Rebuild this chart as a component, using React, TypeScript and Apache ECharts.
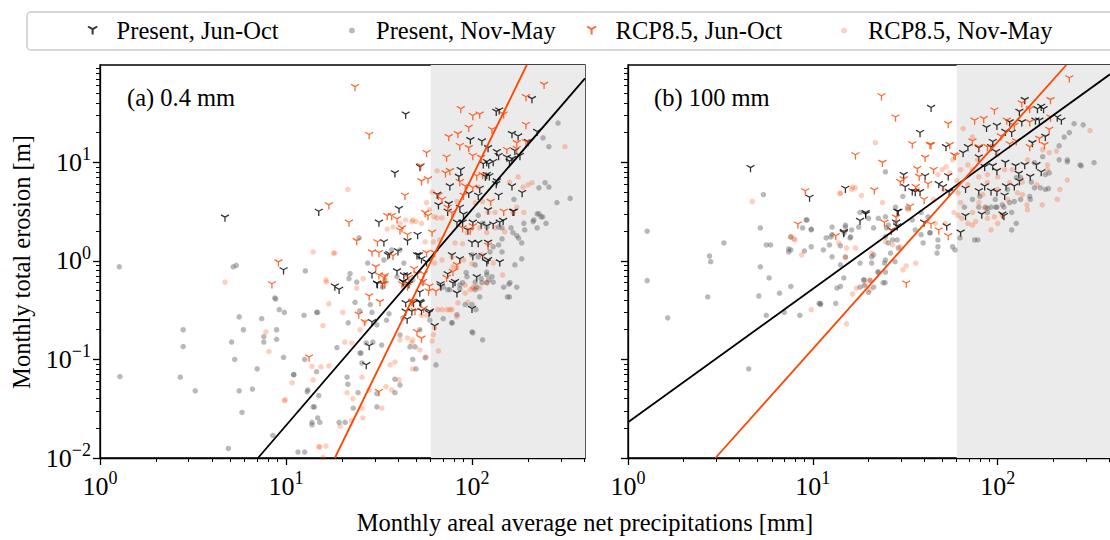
import { useEffect, useRef } from 'react';
import * as echarts from 'echarts';

// ---------- axes ----------
const xMin = 1;
const xMax = 405;
const yMin = 0.01;
const yMax = 97;
const shadeFrom = 60;
const majorX = [1, 10, 100];
const minorX = [2, 3, 4, 5, 6, 7, 8, 9, 20, 30, 40, 50, 60, 70, 80, 90, 200, 300, 400];
const majorY = [0.01, 0.1, 1, 10];
const minorY = [
  0.02, 0.03, 0.04, 0.05, 0.06, 0.07, 0.08, 0.09,
  0.2, 0.3, 0.4, 0.5, 0.6, 0.7, 0.8, 0.9,
  2, 3, 4, 5, 6, 7, 8, 9,
  20, 30, 40, 50, 60, 70, 80, 90,
];

const seriesNames = ['Present, Jun-Oct', 'Present, Nov-May', 'RCP8.5, Jun-Oct', 'RCP8.5, Nov-May'];
const panelTitles = ['(a) 0.4 mm', '(b) 100 mm'];
const xTitle = 'Monthly areal average net precipitations [mm]';
const yTitle = 'Monthly total erosion [m]';

// ---------- panel (a) 0.4 mm ----------
const presentJJ_a = [
  [4.7, 2.7], [9.7, 0.79], [15, 3.1], [44, 30], [210, 43], [140, 33], [135, 32], [98, 16.5], [113, 16],
  [164, 19], [177, 18], [122, 13.7], [136, 12.5], [130, 9.9], [139, 11.4], [120, 9.9], [115, 9.4], [123, 9.4],
  [154, 11], [164, 10.6], [159, 10], [170, 12.8], [181, 11.4], [200, 15.8], [224, 20], [52.5, 8.8], [38.5, 7.6],
  [87, 8.2], [85, 7], [120, 7.3], [118, 7.0], [124, 7.1], [136, 6.3], [135, 5.9], [164, 5.6], [186, 4.8],
  [139, 4.5], [110, 5.3], [96, 4.7], [108, 4.5], [122, 3.2], [168, 3.1], [31.6, 2.4], [40.5, 3.3], [45, 1.56],
  [51, 1.8], [65, 4.6], [76, 5.6], [75, 3.7], [66, 3.6], [74, 3.1], [86, 3.4], [90, 2.9], [83, 2.4], [89, 2.4],
  [95, 2.0], [101, 2.4], [112, 2.3], [120, 2.2], [130, 2.3], [141, 2.4], [100, 1.5], [108, 1.49], [122, 1.5],
  [122, 1.0], [141, 0.95], [147, 2.5], [166, 3.1], [50.6, 1.12], [53.5, 1.02], [57, 0.95], [36, 1.15], [40, 1.23],
  [33.6, 1.52], [18.3, 0.54], [19.3, 0.5], [31, 0.57], [33, 0.57], [39.5, 0.77], [43, 0.7], [45, 0.7], [30.8, 0.58],
  [42.6, 0.6], [67.7, 0.57], [79, 0.58], [44, 0.366], [48.5, 0.366], [53, 0.366], [58.7, 0.29], [44, 0.3],
  [53.5, 0.304], [63, 0.214], [83, 0.46], [27, 0.086], [29, 0.235],
  [29, 0.72], [42.5, 0.6], [45.8, 0.57], [52.4, 0.47], [47.5, 0.3], [52.4, 0.375], [59.3, 0.3], [44.8, 0.25],
  [28, 0.134], [68, 0.54], [74, 0.72], [81, 0.6], [100, 0.32], [106, 0.67], [120, 0.95], [78, 1.12], [86, 1.02],
  [101, 1.1], [114, 1.1], [35.3, 1.12], [51.9, 1.12],
];
const presentNM_a = [
  [1.27, 0.87], [5.2, 0.87], [5.4, 0.9], [12.7, 0.79], [8.7, 0.42], [8.8, 0.41], [5.6, 0.27], [7.4, 0.26],
  [9.2, 0.32], [9.8, 0.3], [12.5, 0.28], [14.6, 0.3], [2.8, 0.2], [5.9, 0.2], [8.9, 0.2], [7.6, 0.17], [7.6, 0.15],
  [8.9, 0.16], [5.1, 0.15], [2.8, 0.135], [5.3, 0.1], [9.7, 0.105], [7, 0.08], [14.6, 0.075], [1.28, 0.067],
  [2.7, 0.066], [11, 0.07], [3.25, 0.048], [5.6, 0.048], [6.6, 0.05], [13, 0.047], [14.2, 0.033], [5.8, 0.029],
  [13.8, 0.023], [8.5, 0.017], [4.9, 0.0125],
  [290, 25], [241, 17.7], [259, 14.4], [247, 6.2], [259, 5.6], [229, 5.5], [337, 4.3], [286, 3.9], [168, 4.2],
  [139, 2.2], [145, 2.16], [162, 2.16], [166, 1.93], [190, 2.4], [192, 2.06], [213, 2.5], [224, 3.0], [235, 2.8],
  [250, 2.4], [224, 2.16], [174, 1.8], [178, 1.7], [185, 1.52], [145, 1.67], [139, 1.45], [130, 1.39], [125, 1.23],
  [120, 0.77], [128, 0.69], [123, 0.64], [148, 0.54], [159, 0.43], [155, 0.43], [185, 1.05], [108, 2.9], [114, 2.4],
  [120, 2.2], [108, 1.1], [100, 1.15], [104, 0.91], [93, 0.76], [112, 0.66], [120, 0.6], [104, 0.51], [110, 0.43],
  [89, 0.6], [86, 0.52], [70, 0.54], [74, 0.51], [21.8, 0.66], [24.7, 1.71], [27.5, 0.95], [33.6, 1.02], [37, 1.29],
  [41, 1.29], [43, 0.95], [34, 0.64], [39.5, 0.69], [43.6, 0.57], [48, 0.64], [54.5, 0.6],
  [106, 0.54], [158, 0.58], [113, 0.6], [92, 0.36], [105, 0.32], [78, 0.235], [101, 0.186], [48, 0.1], [56, 0.104],
  [50, 0.08], [23.5, 0.38], [24.9, 0.31], [25.3, 0.116], [27, 0.147], [30.8, 0.224], [35.8, 0.29], [21.5, 0.056],
  [24.4, 0.046], [30.8, 0.045], [30.8, 0.033], [23, 0.032], [19.3, 0.023], [20.8, 0.023], [11.6, 0.0115],
  [12.6, 0.0115], [13.8, 0.0217], [15.2, 0.023], [14.8, 0.0255], [13.1, 0.049], [14, 0.033], [11, 0.07],
  [12.6, 0.1], [14.8, 0.3], [15, 0.043], [38.5, 0.063], [41, 0.055], [70, 0.26], [114, 0.158], [38.5, 0.046],
  [229, 3.0], [240, 2.8], [215, 2.6],
  [22.1, 0.74], [24, 0.61], [28.4, 0.36], [29, 0.3], [33, 0.54], [21.6, 0.235], [18.8, 0.132], [21.3, 0.066],
  [25, 0.116], [25.6, 0.092], [29.3, 0.15], [32.7, 0.14], [34.7, 0.25], [41, 0.177], [42.5, 0.264], [46.4, 0.134],
  [49.4, 0.134], [52.4, 0.2], [59.3, 0.25], [64, 0.088], [78, 0.235], [83, 0.284], [100, 0.19], [76, 0.51],
  [86, 0.57], [94, 0.69], [104, 0.61], [120, 0.72], [130, 0.61], [145, 1.23], [170, 0.91], [160, 0.6], [174, 0.54],
  [100, 0.36],
];
const rcpJJ_a = [
  [9.1, 0.95], [8.4, 0.57], [23.5, 57], [28, 18.6], [244, 60], [195, 45], [87, 34], [101, 29], [110, 30], [148, 30],
  [96, 22], [128, 21], [195, 23.5], [75, 17.7], [84, 19], [174, 15.4], [195, 15.8], [86, 14.4], [96, 13.7], [57, 12.2],
  [73, 11], [101, 11.4], [112, 10.9], [154, 13.1], [174, 13.4], [53, 9], [53.5, 6.3], [58, 6.6], [72, 7.6], [76, 8],
  [86, 6.2], [106, 7.1], [114, 7.3], [92, 5.6], [90, 4.5], [101, 5.4], [126, 3.9], [148, 3.1], [43.6, 4.5], [17, 3.6],
  [21.8, 2.4], [24, 1.56], [35, 2.8], [37, 2.8], [39.5, 2.6], [41, 2.0], [42, 2.1], [45, 1.8], [56, 3], [58, 2.8],
  [61, 1.9], [66, 4.5], [69, 4.1], [74, 3.4], [78, 3], [89, 2.1], [98, 2.0], [101, 2.2], [122, 1.4], [57, 1.18],
  [63, 1.18], [29, 1.2], [31.6, 1.18], [31, 1.52], [28, 0.43], [34, 0.57], [31.6, 0.7], [34, 0.69], [48.8, 0.81],
  [51, 0.72], [54.5, 0.6], [59, 0.54], [64, 0.48], [33, 0.57], [45, 0.54], [47.5, 0.375], [49.4, 0.304], [55, 0.32],
  [50.6, 0.186], [53.5, 0.16], [24.6, 0.28], [26.5, 0.235], [32, 0.375], [31.6, 0.046], [13.3, 0.103],
  [37.6, 1.1], [30.4, 0.85], [33.6, 0.66], [42, 0.57], [45.8, 0.66], [55, 0.72], [73, 0.66], [79, 0.76],
  [83, 0.89], [48, 0.38], [58.5, 0.48],
];
const rcpNM_a = [
  [4.7, 0.61], [14, 1.23], [8.1, 0.12], [7.8, 0.19], [13.8, 0.085], [9.8, 0.038], [15, 0.013], [316, 14.4],
  [65, 8.2], [188, 5.6], [200, 5.9], [210, 6.2], [166, 3.1], [190, 3.1], [159, 6.3], [177, 7.1], [79, 0.87],
  [83, 0.85], [90, 1.02], [100, 0.93], [63, 0.95], [69, 1.02], [78, 1.1], [56, 1.56], [62, 1.56], [67, 1.63],
  [81, 1.52], [89, 1.49], [57, 3.9], [59, 3.3], [62.5, 2.8], [65, 2.73], [69, 2.73], [41, 2.4], [44, 2.6],
  [47.5, 2.5], [50, 2.5], [37.6, 2.2], [35, 2.1], [21.5, 5.3], [16.4, 0.64], [18, 1.2], [24, 0.53], [26, 0.66],
  [92, 0.47], [98, 0.51], [102, 0.54], [110, 0.53], [69, 0.32], [76, 0.32], [83, 0.27], [62, 0.178], [66, 0.122],
  [63, 0.21], [47.5, 0.147], [56.7, 0.106], [48, 0.08], [38.5, 0.094], [25.6, 0.032], [32.8, 0.032], [37, 0.049],
  [28, 0.049], [22.5, 0.024], [19.5, 0.021], [15.2, 0.013], [16.4, 0.0132], [15.8, 0.0101], [14, 0.062],
  [15.4, 0.084], [17, 0.086], [9.9, 0.039], [10.8, 0.058], [15.8, 0.22], [17, 0.366], [40.5, 0.062], [34.5, 0.053],
  [61, 5], [48, 2.6], [53.5, 2.4], [83, 4], [104, 3.9], [108, 5.6], [114, 4], [122, 3.1], [133, 3.1], [120, 1.93],
  [150, 1.97], [133, 2.16], [110, 2.16], [94, 1.93], [174, 3.5],
  [18.3, 1.2], [16.5, 0.61], [20.2, 0.3], [20.7, 0.15], [22.6, 0.147], [25, 0.2], [26.5, 0.24], [25.6, 0.066],
  [21.3, 0.046], [22.9, 0.04], [25.9, 0.0255], [36.3, 0.088], [41, 0.158], [45, 0.165], [48, 0.158], [53.5, 0.28],
  [57, 0.28], [52.4, 0.125], [61, 0.154], [65.5, 0.32], [73.5, 0.32], [78, 0.32], [84, 0.375], [91.7, 0.57],
  [95, 0.38], [101, 0.53], [120, 0.6], [146, 0.72], [130, 0.95], [113, 1.15],
];

// ---------- panel (b) 100 mm ----------
const presentJJ_b = [
  [43.6, 35], [38, 19.5], [4.6, 8.6], [9.6, 4.3], [15, 5.3], [14.7, 1.93], [18, 2.5], [19.3, 2.9], [28.6, 3.1],
  [28.2, 2.4], [140, 42], [164, 34], [177, 34], [172, 36], [131, 32], [87, 22], [99, 23], [116, 25], [135, 25],
  [160, 26], [168, 26], [210, 28], [221, 26], [52.5, 14], [65, 12.2], [69, 14], [79, 13.7], [94, 15.8], [110, 20],
  [119, 19.6], [154, 15.4], [181, 17.8], [31, 7.3], [40.5, 7.1], [48, 5.9], [54, 7.1], [31.6, 5.5], [34.5, 5],
  [35.8, 4.9], [38, 4.9], [29, 3.1], [28.6, 2.2], [26.6, 2.0], [50.6, 5.5], [54.6, 4.9], [67, 5.3], [79, 5.0],
  [85, 5.6], [92, 5.0], [99, 4.9], [109, 4.5], [111, 5.6], [123, 5.6], [131, 6.3], [67, 2.8], [82, 2.9], [106, 2.9],
  [108, 2.8], [63, 1.9], [53, 2.2], [40, 2.4], [125, 9], [140, 9.2], [162, 9.2], [172, 7.8], [150, 7], [130, 7.5],
  [85, 8.8], [94, 9], [99, 8], [110, 9.7], [98, 12.5], [92, 14], [79, 11], [19.3, 3.0], [14.7, 1.88],
];
const presentNM_b = [
  [259, 24.6], [290, 24], [244, 20], [229, 18], [215, 14.7], [238, 10.6], [283, 9.2], [332, 9.9], [175, 11.4],
  [158, 9.9], [181, 7.5], [188, 5.4], [170, 5.5], [158, 5.5], [152, 6.3], [133, 7], [126, 7], [149, 4.5], [133, 4.2],
  [116, 3.9], [119, 3.1], [108, 3.5], [99, 3.5], [79, 3.5], [88, 3.4], [73, 4.2], [66, 3.5], [92, 3.5], [80, 4.5],
  [97, 4.2], [42, 2.8], [38.5, 3.1], [32.5, 3.45], [30.7, 4.5], [28, 3.5], [24.7, 2.8], [24.7, 8], [34.5, 2.6],
  [43, 1.93], [47.5, 1.63], [47, 1.2], [39.5, 1.52], [26.3, 1.2], [29, 1.35], [57, 1.39], [75, 1.63], [88, 3.1],
  [119, 2.06], [126, 2.4], [9.3, 2.6], [9.8, 2.06], [7.6, 1.75], [12.7, 2.2], [12.5, 1.75], [15, 2.2], [15.9, 1.71],
  [18, 3.1], [20, 2.7], [22.6, 2.7], [21.3, 2.16], [25, 2.16], [25.6, 2.3], [28.6, 1.63], [9, 1.26], [9.8, 1.39],
  [7.6, 1.29], [20.8, 1.1], [24.7, 1.02], [27.8, 0.98], [24.7, 0.77], [24, 0.6], [21.3, 0.54], [18, 0.54],
  [14.1, 0.55], [13.5, 0.53], [11, 0.36], [8.5, 0.28], [7.6, 0.55], [6.6, 0.47], [1.27, 2.0], [5.4, 4.7], [3.3, 1.52],
  [2.76, 1.12], [2.8, 0.98], [1.27, 0.63], [1.64, 0.264], [2.7, 0.43], [5.2, 2.16], [5.6, 1.45], [5.9, 1.45],
  [5.2, 0.87], [5.8, 0.67], [5.1, 0.44], [5.6, 0.28], [7.4, 1.23], [7.4, 1.32], [8.8, 2.16], [9.8, 2.1], [9.2, 2.6],
  [10.8, 0.37], [4.5, 0.08], [12.7, 1.84], [15, 2.3], [14.8, 1.93], [16, 1.75], [12.3, 1.45], [14.1, 1.42], [15, 1.1],
  [18, 0.95], [22.5, 0.77], [19, 0.64], [20.4, 0.63], [279, 9.4], [215, 10.6], [238, 10.1], [190, 7.8], [181, 5.3],
  [150, 4.2], [7, 0.3], [11, 0.37], [13.3, 0.37], [19, 0.56], [20, 0.48], [24.6, 0.6],
  [113, 5.3], [123, 4.0], [106, 3.7], [97.5, 3.5], [86, 3.5], [78, 1.63], [62.5, 1.71], [58.7, 1.29], [47.5, 1.39],
  [43, 1.92], [38.5, 1.84], [35.8, 2.06], [28, 2.43], [27, 1.63], [25.6, 1.52], [24.7, 1.75], [20.8, 0.95],
  [21.3, 1.15], [24.4, 0.95], [22.6, 0.77], [18.8, 0.64], [14.7, 0.67], [14.1, 0.91], [12.7, 1.1], [11.4, 1.29],
  [11.8, 1.71], [16.2, 2.06], [17.7, 2.2],
];
const rcpJJ_b = [
  [23.5, 46], [28, 28], [54, 24], [34.5, 15], [43.6, 14.7], [17, 11.6], [23.8, 9.7], [9.1, 5], [21.5, 5.1], [8.3, 2.3],
  [13.3, 1.75], [24.4, 2.4], [26.6, 2.0], [32, 0.58], [244, 70], [193, 42], [135, 39], [149, 34], [75, 26], [84, 27],
  [96, 33], [112, 26], [123, 23], [149, 25], [193, 28], [190, 21], [43, 14.7], [55, 14.7], [58, 11.6], [59, 11.4],
  [73, 16], [79, 14], [88, 14], [104, 18], [116, 15], [126, 16], [149, 14], [168, 17], [179, 14.7], [40.5, 10.9],
  [45, 8.2], [36.7, 8.4], [37.6, 7], [31, 6.6], [29.7, 6.2], [33.6, 3.5], [40, 4.1], [42, 5.9], [36, 5.5], [28.2, 2.7],
  [54, 1.75], [48, 2.0], [43.6, 2.3],
];
const rcpNM_b = [
  [316, 21], [208, 13], [190, 12.5], [175, 13.4], [186, 8.4], [128, 4.9], [144, 3.7], [136, 6.3], [116, 6.2],
  [109, 8.4], [100, 7.1], [88, 6.2], [79, 7.1], [73, 8.4], [69, 9.4], [63, 8.4], [60, 6.5], [55, 7.8], [52.5, 9],
  [50, 8.4], [79, 3.9], [85, 3.45], [73, 3.1], [63, 3.9], [58, 3.1], [64, 2.7], [69, 2.4], [88, 2.7], [96, 2.8],
  [100, 2.4], [92, 2.06], [76, 2.5], [52, 2.4], [46, 2.4], [21.8, 15.8], [14.1, 4.9], [16.2, 5.3], [17, 5.5],
  [18.3, 4.6], [23.8, 3.9], [7.9, 1.67], [8.7, 1.15], [15.2, 1.35], [17, 1.35], [20.8, 1.2], [15, 1.07], [13.8, 1.52],
  [24.7, 1.56], [27, 1.45], [29.7, 1.39], [32, 0.89], [30.7, 0.81], [36, 0.95], [20.4, 0.64], [17.2, 0.53],
  [20.4, 0.51], [15.2, 0.23], [9.8, 0.32], [4.7, 4.0], [7.6, 1.75], [8, 1.63], [16.4, 0.46], [19.2, 0.58], [14, 4.8],
  [16.4, 5.6], [65, 22], [73, 18],
  [99.5, 5.3], [113, 4.2], [136, 4.7], [163, 5.9], [186, 9.4], [83, 4.7], [69, 5.9], [61, 4.9], [51, 5.3], [45, 4.2],
  [61, 2.9], [73, 2.3], [106, 2.9], [145, 3.3], [174, 3.7], [210, 4.2], [238, 6.6], [217, 5.3], [88, 7.5], [120, 8.4],
  [145, 10.6], [99.5, 11.9], [78, 10.6], [57, 10.6], [47.5, 7.5], [37, 5.3], [32.7, 3.3],
];

// ---------- fitted lines (end points) ----------
const fitPresent_a = [[7.07, 0.01], [405, 71]];
const fitRcp_a = [[18.3, 0.01], [197, 97]];
const fitPresent_b = [[1, 0.023], [405, 78]];
const fitRcp_b = [[2.97, 0.01], [235, 97]];

const FONT = "'Liberation Serif', 'Times New Roman', 'DejaVu Serif', serif";
const TRI = 'path://M50,50L50,100M50,50L6.7,25M50,50L93.3,25';
const BLACK = '#000000';
const RED = '#ff4500';
const GRAY_DOT = 'rgba(95,95,95,0.55)';
const SALMON_DOT = 'rgba(255,69,0,0.33)';

const fmtPow = (v: number) => {
  const l = Math.log10(v);
  const e = Math.round(l);
  if (Math.abs(l - e) > 1e-6) return '';
  return `{b|10}{s|${e < 0 ? '\u2212' + -e : e}}`;
};
const richLabel = {
  b: { fontSize: 26, fontFamily: FONT, color: '#000', lineHeight: 34 },
  s: { fontSize: 18, fontFamily: FONT, color: '#000', lineHeight: 19, verticalAlign: 'top' },
};

const axLine = { color: '#000', width: 1.3 };

function buildAxes(g: number) {
  const xMain = {
    type: 'log', logBase: 10, gridIndex: g, min: xMin, max: xMax, position: 'bottom',
    axisLine: { show: true, onZero: false, lineStyle: axLine },
    axisTick: { show: true, length: 7, lineStyle: axLine, customValues: majorX },
    axisLabel: { show: true, customValues: majorX, margin: 11, formatter: fmtPow, rich: richLabel },
    splitLine: { show: false },
  };
  const xMinor = {
    type: 'log', logBase: 10, gridIndex: g, min: xMin, max: xMax, position: 'bottom',
    axisLine: { show: false, onZero: false },
    axisTick: { show: true, length: 4, lineStyle: { color: '#000', width: 1 }, customValues: minorX },
    axisLabel: { show: false },
    splitLine: { show: false },
  };
  const yMain = {
    type: 'log', logBase: 10, gridIndex: g, min: yMin, max: yMax, position: 'left',
    axisLine: { show: true, onZero: false, lineStyle: axLine },
    axisTick: { show: true, length: 7, lineStyle: axLine, customValues: majorY },
    axisLabel: { show: g === 0, customValues: majorY, margin: 9, formatter: fmtPow, rich: richLabel },
    splitLine: { show: false },
  };
  const yMinor = {
    type: 'log', logBase: 10, gridIndex: g, min: yMin, max: yMax, position: 'left',
    axisLine: { show: false, onZero: false },
    axisTick: { show: true, length: 4, lineStyle: { color: '#000', width: 1 }, customValues: minorY },
    axisLabel: { show: false },
    splitLine: { show: false },
  };
  return { x: [xMain, xMinor], y: [yMain, yMinor] };
}

function triSeries(name: string, data: number[][], color: string, g: number) {
  return {
    type: 'scatter', name, data, xAxisIndex: 2 * g, yAxisIndex: 2 * g,
    symbol: TRI, symbolSize: 8, symbolKeepAspect: true,
    itemStyle: { color: 'rgba(0,0,0,0)', borderColor: color, borderWidth: 1.3 },
    emphasis: { disabled: true }, silent: true, z: 3,
  };
}
function dotSeries(name: string, data: number[][], color: string, g: number) {
  return {
    type: 'scatter', name, data, xAxisIndex: 2 * g, yAxisIndex: 2 * g,
    symbol: 'circle', symbolSize: 5.5,
    itemStyle: { color, borderWidth: 0 },
    emphasis: { disabled: true }, silent: true, z: 3,
  };
}
function lineSeries(data: number[][], color: string, g: number) {
  return {
    type: 'line', data, xAxisIndex: 2 * g, yAxisIndex: 2 * g,
    symbol: 'none', lineStyle: { color, width: 1.8 }, silent: true, z: 6, clip: true,
  };
}

export default function App() {
  const ref = useRef<HTMLDivElement>(null);
  useEffect(() => {
    if (!ref.current) return;
    const chart = echarts.init(ref.current, undefined, { renderer: 'svg' });
    const a = buildAxes(0);
    const b = buildAxes(1);
    const panels = [
      { pj: presentJJ_a, pn: presentNM_a, rj: rcpJJ_a, rn: rcpNM_a, fp: fitPresent_a, fr: fitRcp_a },
      { pj: presentJJ_b, pn: presentNM_b, rj: rcpJJ_b, rn: rcpNM_b, fp: fitPresent_b, fr: fitRcp_b },
    ];
    const series: any[] = [];
    panels.forEach((p, g) => {
      const first: any = triSeries(seriesNames[0], p.pj, BLACK, g);
      first.markArea = {
        silent: true,
        itemStyle: { color: '#ebebeb' },
        data: [[{ xAxis: shadeFrom }, { xAxis: xMax }]],
      };
      series.push(first);
      series.push(dotSeries(seriesNames[1], p.pn, GRAY_DOT, g));
      series.push(triSeries(seriesNames[2], p.rj, RED, g));
      series.push(dotSeries(seriesNames[3], p.rn, SALMON_DOT, g));
      series.push(lineSeries(p.fp, BLACK, g));
      series.push(lineSeries(p.fr, RED, g));
    });

    const legendPos = [87, 349, 586, 841];
    const legendH = [8, 6, 8, 6];
    const legend = seriesNames.map((n, i) => ({
      data: [n], left: legendPos[i], top: 18, itemWidth: 38, itemHeight: legendH[i],
      padding: 0, itemGap: 0, selectedMode: false, z: 10,
      textStyle: { fontFamily: FONT, fontSize: 24.5, color: '#000' },
    }));

    chart.setOption({
      animation: false,
      backgroundColor: '#ffffff',
      textStyle: { fontFamily: FONT },
      grid: [
        { left: 100, top: 65, width: 485, height: 393, show: true, borderColor: '#000', borderWidth: 1.3, backgroundColor: 'transparent' },
        { left: 628, top: 65, width: 485, height: 393, show: true, borderColor: '#000', borderWidth: 1.3, backgroundColor: 'transparent' },
      ],
      xAxis: [...a.x, ...b.x],
      yAxis: [...a.y, ...b.y],
      legend,
      graphic: [
        {
          type: 'rect', z: 0, shape: { x: 27, y: 12, width: 1110, height: 38, r: 4 },
          style: { fill: '#ffffff', stroke: '#cccccc', lineWidth: 1.5 },
        },
        {
          type: 'text', x: 127, y: 97, z: 10,
          style: { text: panelTitles[0], fontFamily: FONT, fontSize: 24.5, fill: '#000', align: 'left', verticalAlign: 'middle' },
        },
        {
          type: 'text', x: 654, y: 97, z: 10,
          style: { text: panelTitles[1], fontFamily: FONT, fontSize: 24.5, fill: '#000', align: 'left', verticalAlign: 'middle' },
        },
        {
          type: 'text', x: 585, y: 522, z: 10,
          style: { text: xTitle, fontFamily: FONT, fontSize: 24.5, fill: '#000', align: 'center', verticalAlign: 'middle' },
        },
        {
          type: 'text', x: 21, y: 262, rotation: Math.PI / 2, z: 10,
          style: { text: yTitle, fontFamily: FONT, fontSize: 24.5, fill: '#000', align: 'center', verticalAlign: 'middle' },
        },
      ],
      series,
    });
    return () => chart.dispose();
  }, []);
  return (
    <div
      ref={ref}
      style={{ position: 'fixed', left: 0, top: 0, width: 1110, height: 540, background: '#fff' }}
    />
  );
}
